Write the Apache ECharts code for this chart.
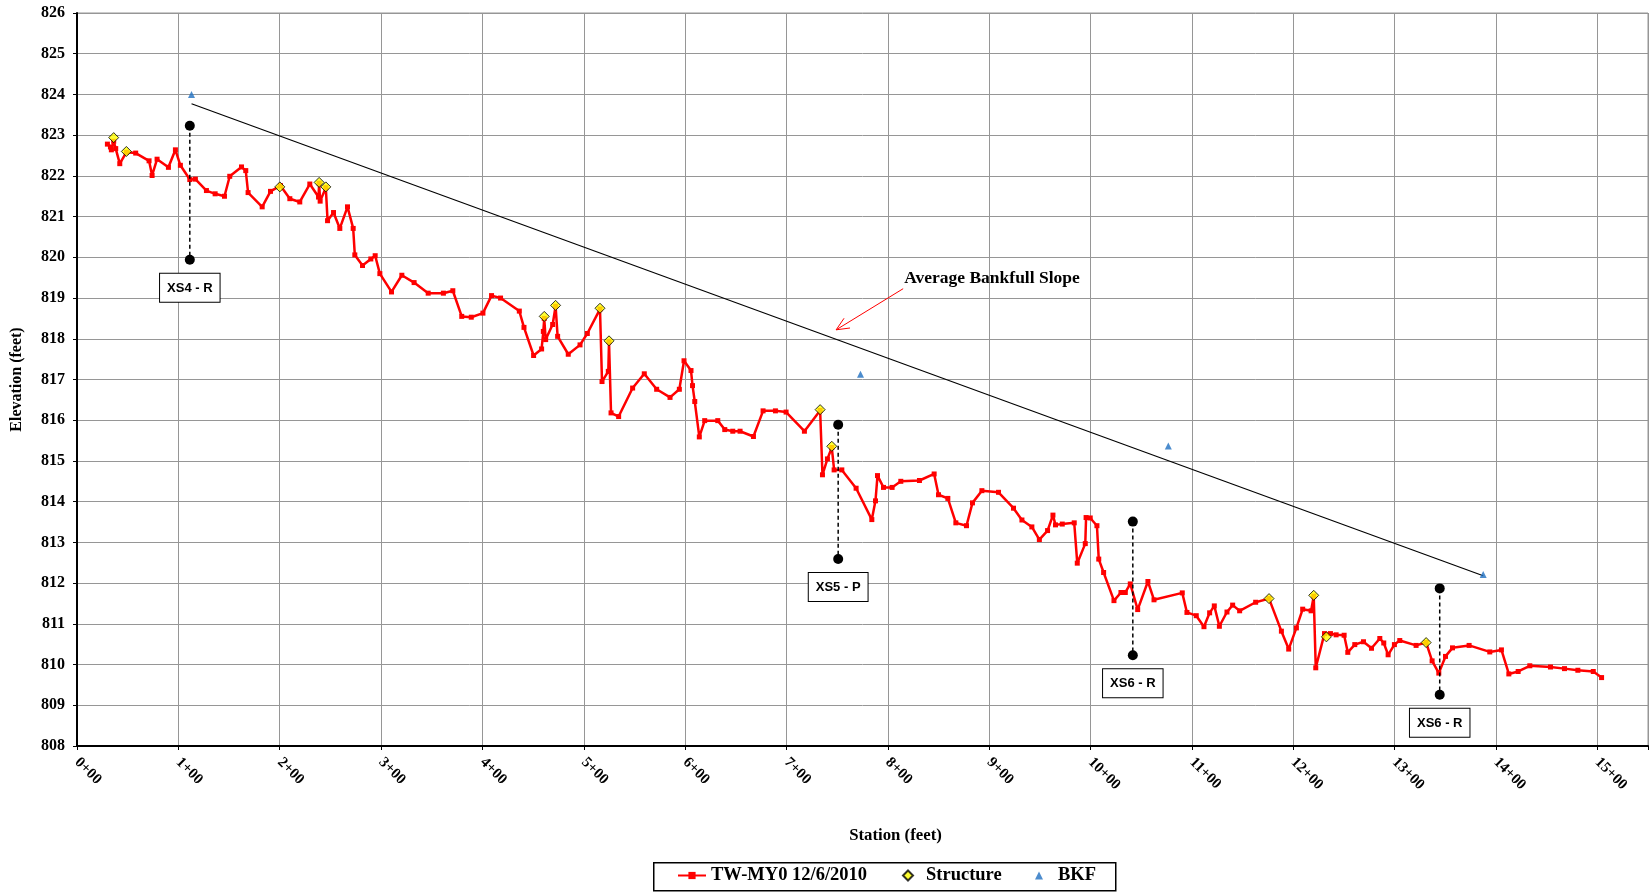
<!DOCTYPE html>
<html>
<head>
<meta charset="utf-8">
<title>TW-MY0 Longitudinal Profile</title>
<script src="https://cdn.jsdelivr.net/npm/echarts@6.0.0/dist/echarts.min.js"></script>
<style>
  html, body { margin: 0; padding: 0; background: #ffffff; }
  #chart { width: 1652px; height: 893px; }
</style>
</head>
<body>
<div id="chart"></div>
<script>
// Thalweg survey, 12/6/2010: station (ft) and bed elevation (ft)
const surveyStations = [
  30.0, 33.0, 33.9, 36.2, 38.2, 42.2, 48.7, 57.9, 71.1, 74.1, 79.0, 90.2, 97.1, 102.0,
  111.3, 116.8, 127.7, 136.3, 145.5, 150.7, 162.3, 166.5, 168.8, 182.7, 190.9, 200.8,
  210.0, 219.8, 229.7, 238.3, 238.9, 239.9, 245.5, 247.2, 253.1, 259.3, 266.9, 272.5,
  274.1, 281.7, 289.9, 294.2, 298.8, 310.3, 320.5, 332.6, 346.5, 361.5, 370.8, 379.6,
  389.0, 400.5, 409.0, 417.9, 436.4, 441.0, 450.5, 458.4, 460.1, 461.0, 462.4, 469.3,
  472.2, 474.2, 484.7, 496.3, 503.5, 516.0, 518.0, 524.2, 524.9, 526.9, 534.4, 548.2,
  559.7, 571.9, 585.1, 594.3, 598.9, 605.8, 607.3, 609.5, 614.0, 619.3, 632.2, 639.1,
  647.0, 654.2, 667.4, 676.9, 689.1, 699.6, 717.7, 733.2, 735.5, 740.4, 744.7, 747.0,
  754.6, 768.7, 784.2, 787.8, 789.8, 795.7, 804.2, 812.8, 831.2, 845.7, 850.0, 859.2,
  867.1, 877.6, 883.5, 892.8, 909.2, 924.0, 932.3, 942.1, 949.5, 957.6, 962.9, 965.4,
  972.1, 983.9, 986.9, 994.8, 995.6, 999.7, 1006.3, 1008.1, 1012.9, 1023.1, 1030.0,
  1034.3, 1039.2, 1046.5, 1056.6, 1062.6, 1090.5, 1095.1, 1104.3, 1111.9, 1117.5,
  1122.1, 1127.1, 1134.6, 1140.2, 1147.1, 1162.9, 1176.1, 1188.3, 1195.5, 1203.1,
  1209.3, 1217.6, 1220.2, 1222.2, 1230.8, 1236.7, 1242.3, 1250.2, 1253.8, 1260.7,
  1269.3, 1277.2, 1285.4, 1289.3, 1293.6, 1299.8, 1305.1, 1321.2, 1331.1, 1337.0,
  1343.6, 1350.2, 1357.1, 1373.5, 1393.9, 1405.4, 1412.7, 1421.9, 1433.4, 1453.8,
  1467.6, 1480.8, 1496.0, 1504.2
];
const surveyElevations = [
  822.78, 822.71, 822.64, 822.85, 822.67, 822.30, 822.58, 822.56, 822.37, 822.01, 822.41, 822.21, 822.64, 822.26,
  821.91, 821.92, 821.64, 821.56, 821.50, 821.99, 822.22, 822.13, 821.59, 821.24, 821.62, 821.76,
  821.44, 821.36, 821.80, 821.48, 821.82, 821.38, 821.71, 820.90, 821.10, 820.71, 821.24, 820.71,
  820.06, 819.80, 819.96, 820.04, 819.60, 819.15, 819.56, 819.38, 819.12, 819.12, 819.18, 818.55,
  818.53, 818.63, 819.06, 819.00, 818.68, 818.28, 817.59, 817.75, 818.18, 818.50, 817.98, 818.35,
  818.80, 818.06, 817.62, 817.85, 818.13, 818.73, 816.95, 817.20, 817.93, 816.18, 816.09, 816.79,
  817.14, 816.76, 816.56, 816.76, 817.46, 817.22, 816.85, 816.46, 815.59, 815.99, 815.99, 815.77,
  815.73, 815.73, 815.60, 816.23, 816.23, 816.20, 815.73, 816.24, 814.66, 815.05, 815.33, 814.78,
  814.78, 814.33, 813.56, 814.02, 814.64, 814.35, 814.35, 814.50, 814.52, 814.68, 814.17, 814.08,
  813.48, 813.41, 813.97, 814.27, 814.23, 813.84, 813.55, 813.38, 813.07, 813.29, 813.67, 813.43,
  813.45, 813.48, 812.49, 812.97, 813.61, 813.60, 813.41, 812.59, 812.26, 811.57, 811.77,
  811.77, 811.98, 811.35, 812.04, 811.59, 811.76, 811.28, 811.20, 810.93, 811.27,
  811.44, 810.94, 811.29, 811.46, 811.32, 811.53, 811.62, 810.82, 810.38, 810.90,
  811.36, 811.32, 811.68, 809.92, 810.76, 810.76, 810.73, 810.72, 810.30, 810.49,
  810.56, 810.40, 810.64, 810.53, 810.24, 810.49, 810.59, 810.47, 810.54, 810.09,
  809.79, 810.20, 810.41, 810.47, 810.31, 810.36, 809.77, 809.83, 809.97, 809.94,
  809.90, 809.86, 809.83, 809.68
];

// Structures (station, elevation)
const structureStations = [36.2, 48.7, 200.1, 238.9, 245.5, 461.0, 472.2, 516.0, 524.9, 733.2, 744.7, 1176.1, 1220.2, 1232.7, 1331.1];
const structureElevations = [822.94, 822.60, 821.73, 821.84, 821.73, 818.55, 818.82, 818.75, 817.95, 816.26, 815.36, 811.62, 811.70, 810.68, 810.54];

// Bankfull indicators
const bkfStations = [113.0, 773.0, 1076.7, 1387.4];
const bkfElevations = [824.00, 817.13, 815.37, 812.21];

// Average bankfull slope line end points
const slopeStations = [113.0, 1387.4];
const slopeElevations = [823.77, 812.18];

// Cross-section locations
const xsNames = ['XS4 - R', 'XS5 - P', 'XS6 - R', 'XS6 - R'];
const xsStations = [111.3, 751.0, 1041.7, 1344.5];
const xsTop = [823.23, 815.89, 813.51, 811.87];
const xsBottom = [819.94, 812.59, 810.23, 809.26];

// Callout for the slope line
const noteText = 'Average Bankfull Slope';
const notePos = [816.1, 819.47];
const arrowFrom = [815.1, 819.23];
const arrowTo = [749.0, 818.22];

// Axis settings
const stationMin = 0, stationMax = 1550, stationStep = 100;
const elevMin = 808, elevMax = 826, elevStep = 1;

const SERIF = '"Liberation Serif", "Times New Roman", serif';
const SANS = '"Liberation Sans", Arial, sans-serif';

const zip = (xs, ys) => xs.map((x, i) => [x, ys[i]]);

const xsSeries = xsNames.map((name, i) => ({
  name: 'xs' + i,
  type: 'line',
  z: 6,
  symbol: 'circle',
  symbolSize: 10,
  itemStyle: { color: '#000000' },
  lineStyle: { color: '#000000', width: 1.5, type: [4, 3] },
  silent: true,
  data: [
    [xsStations[i], xsTop[i]],
    {
      value: [xsStations[i], xsBottom[i]],
      label: {
        show: true,
        position: 'bottom',
        distance: 9,
        formatter: name,
        color: '#000000',
        fontFamily: SANS,
        fontWeight: 'bold',
        fontSize: 13,
        backgroundColor: '#ffffff',
        borderColor: '#000000',
        borderWidth: 1,
        padding: [8, 7, 7, 7]
      }
    }
  ]
}));

// Legend: one entry per component so each key keeps its own icon size
const legendText = { fontFamily: SERIF, fontWeight: 'bold', fontSize: 18.5, color: '#000000' };
const legendBase = { orient: 'horizontal', top: 866, padding: 0, selectedMode: false };
const legends = [
  Object.assign({}, legendBase, { left: 677, itemWidth: 28, itemHeight: 9, data: ['TW-MY0 12/6/2010'], textStyle: legendText }),
  Object.assign({}, legendBase, { left: 902, itemWidth: 10, itemHeight: 10, data: [{ name: 'Structure', icon: 'diamond' }],
    textStyle: Object.assign({}, legendText, { padding: [0, 0, 0, 8] }) }),
  Object.assign({}, legendBase, { left: 1035, itemWidth: 8, itemHeight: 8, data: [{ name: 'BKF', icon: 'triangle' }],
    textStyle: Object.assign({}, legendText, { padding: [0, 0, 0, 10] }) })
];

const chart = echarts.init(document.getElementById('chart'), null, { renderer: 'canvas' });

chart.setOption({
  animation: false,
  backgroundColor: '#ffffff',
  grid: { left: 77, right: 4, top: 13, bottom: 147, show: true, borderColor: '#969696', borderWidth: 1, outerBoundsMode: 'none' },
  legend: legends,
  graphic: [
    {
      type: 'rect',
      left: 653,
      top: 862,
      z: -1,
      shape: { width: 462, height: 28 },
      style: { fill: '#ffffff', stroke: '#000000', lineWidth: 1.5 }
    }
  ],
  xAxis: {
    type: 'value',
    min: stationMin,
    max: stationMax,
    interval: stationStep,
    name: 'Station (feet)',
    nameLocation: 'middle',
    nameGap: 81,
    nameTextStyle: { fontFamily: SERIF, fontWeight: 'bold', fontSize: 16.8, color: '#000000', padding: [0, 0, 0, 66] },
    axisLine: { show: true, onZero: false, lineStyle: { color: '#000000', width: 2 } },
    axisTick: { show: true, length: 4, lineStyle: { color: '#000000', width: 1 } },
    axisLabel: {
      rotate: -45,
      margin: 14,
      color: '#000000',
      fontFamily: SERIF,
      fontWeight: 'bold',
      fontSize: 15,
      formatter: v => (v % 100 === 0 ? (v / 100) + '+00' : '')
    },
    splitLine: { show: true, lineStyle: { color: '#969696', width: 1 } }
  },
  yAxis: {
    type: 'value',
    min: elevMin,
    max: elevMax,
    interval: elevStep,
    name: 'Elevation (feet)',
    nameLocation: 'middle',
    nameRotate: 90,
    nameGap: 52,
    nameTextStyle: { fontFamily: SERIF, fontWeight: 'bold', fontSize: 16, color: '#000000' },
    axisLine: { show: true, onZero: false, lineStyle: { color: '#000000', width: 2 } },
    axisTick: { show: true, length: 4, lineStyle: { color: '#000000', width: 1 } },
    axisLabel: { margin: 12, color: '#000000', fontFamily: SERIF, fontWeight: 'bold', fontSize: 16 },
    splitLine: { show: true, lineStyle: { color: '#969696', width: 1 } }
  },
  series: [
    {
      name: 'Average Bankfull Slope',
      type: 'line',
      z: 2,
      symbol: 'none',
      silent: true,
      lineStyle: { color: '#000000', width: 1.2 },
      data: zip(slopeStations, slopeElevations)
    },
    {
      name: 'TW-MY0 12/6/2010',
      type: 'line',
      z: 4,
      symbol: 'rect',
      symbolSize: 5,
      showAllSymbol: true,
      itemStyle: { color: '#ff0000' },
      lineStyle: { color: '#ff0000', width: 2.5 },
      data: zip(surveyStations, surveyElevations)
    },
    {
      name: 'Structure',
      type: 'scatter',
      z: 5,
      symbol: 'diamond',
      symbolSize: 10,
      itemStyle: { color: '#ffff00', borderColor: '#000000', borderWidth: 1 },
      data: zip(structureStations, structureElevations)
    },
    {
      name: 'BKF',
      type: 'scatter',
      z: 5,
      symbol: 'triangle',
      symbolSize: 7,
      itemStyle: { color: '#1f6fc0' },
      data: zip(bkfStations, bkfElevations)
    },
    ...xsSeries,
    {
      name: 'note',
      type: 'custom',
      z: 7,
      silent: true,
      data: [notePos],
      renderItem: function (params, api) {
        const t = api.coord(notePos);
        const a = api.coord(arrowFrom);
        const b = api.coord(arrowTo);
        const ang = Math.atan2(a[1] - b[1], a[0] - b[0]);
        const head = 14, spread = 0.42;
        const h1 = [b[0] + head * Math.cos(ang + spread), b[1] + head * Math.sin(ang + spread)];
        const h2 = [b[0] + head * Math.cos(ang - spread), b[1] + head * Math.sin(ang - spread)];
        const red = { stroke: '#ff0000', lineWidth: 1 };
        return {
          type: 'group',
          children: [
            { type: 'text', style: { text: noteText, x: t[0], y: t[1], align: 'left', verticalAlign: 'middle', font: 'bold 17.5px ' + SERIF, fill: '#000000' } },
            { type: 'line', shape: { x1: a[0], y1: a[1], x2: b[0], y2: b[1] }, style: red },
            { type: 'line', shape: { x1: b[0], y1: b[1], x2: h1[0], y2: h1[1] }, style: red },
            { type: 'line', shape: { x1: b[0], y1: b[1], x2: h2[0], y2: h2[1] }, style: red }
          ]
        };
      }
    }
  ]
});
</script>
</body>
</html>
